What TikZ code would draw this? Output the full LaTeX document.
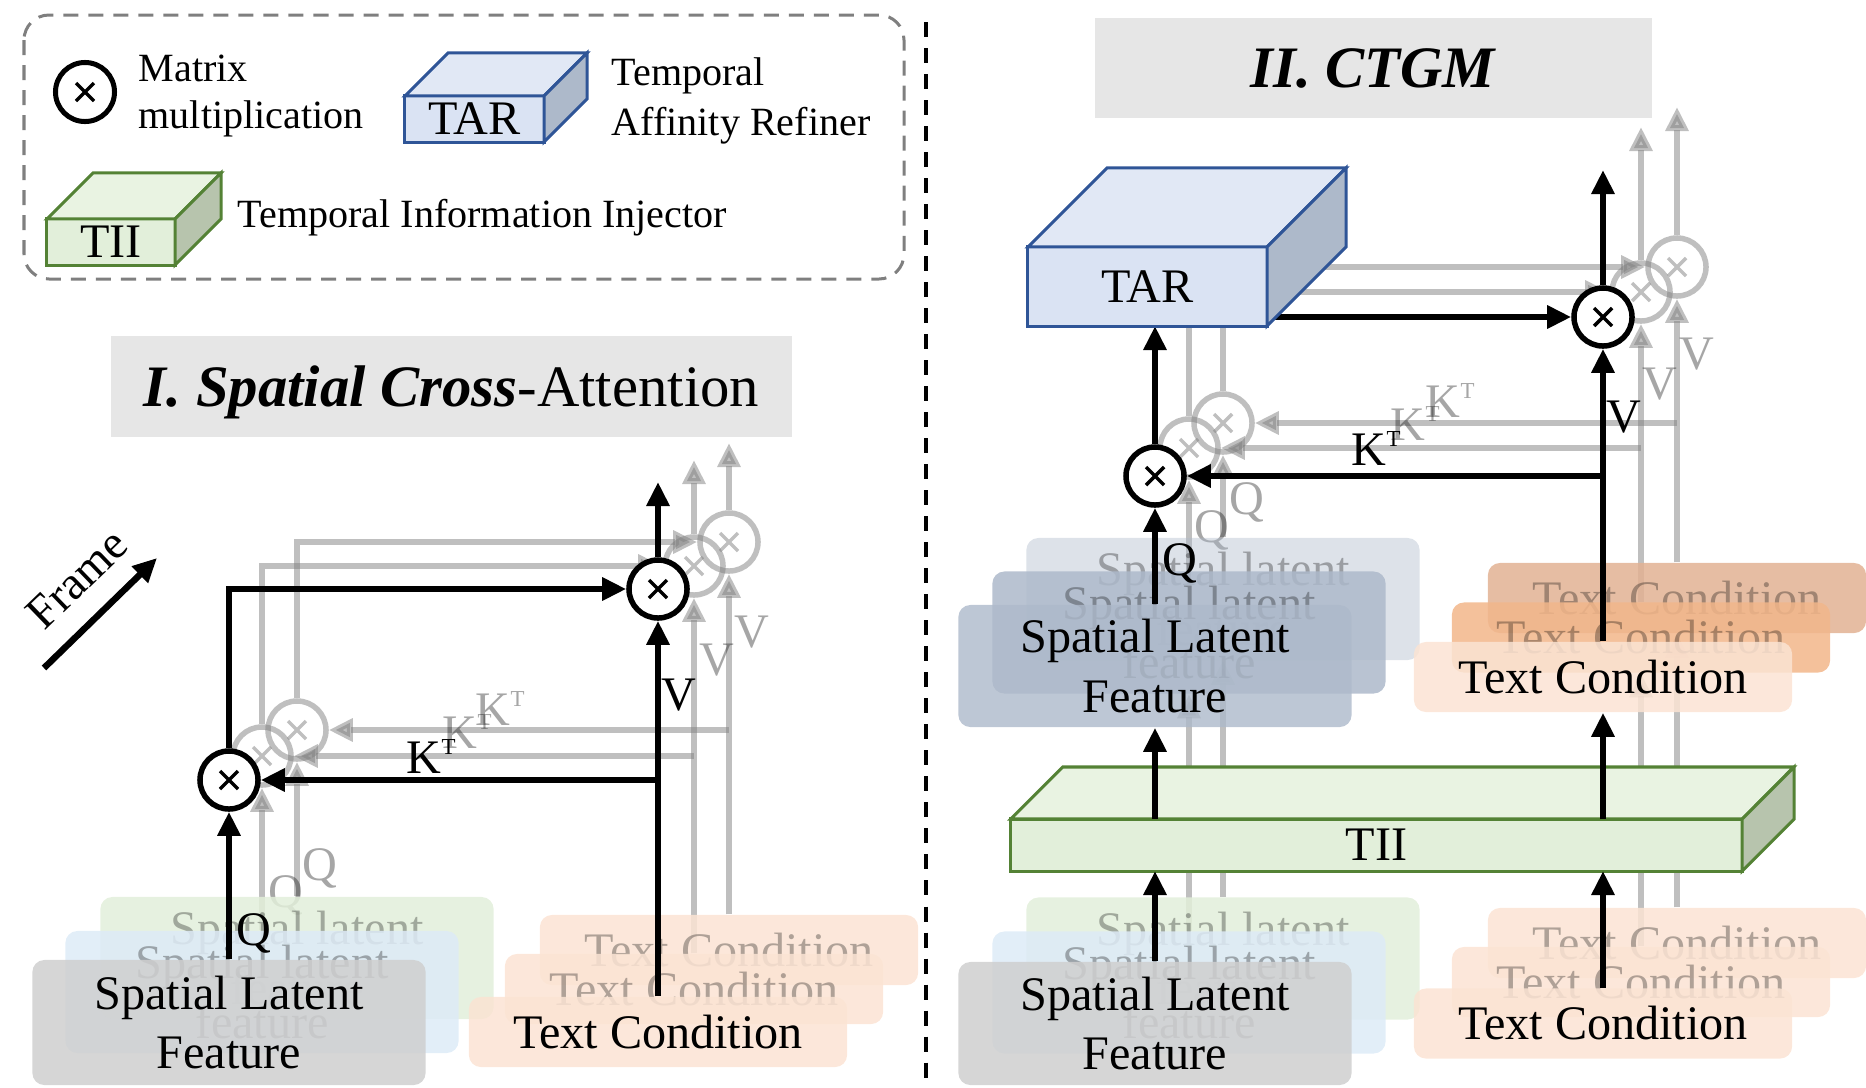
\documentclass[tikz,border=0pt]{standalone}
\usepackage{fontspec}
\setmainfont{Liberation Serif}
\usetikzlibrary{arrows.meta}
\definecolor{cgrey}{HTML}{7F7F7F}
\definecolor{ctitle}{HTML}{E6E6E6}
\definecolor{tarfront}{HTML}{DAE3F3}
\definecolor{tartop}{HTML}{E1E8F5}
\definecolor{tarside}{HTML}{ADB9CA}
\definecolor{tarline}{HTML}{2F5597}
\definecolor{tiifront}{HTML}{E2EFDA}
\definecolor{tiitop}{HTML}{E9F3E2}
\definecolor{tiiside}{HTML}{B7C4AD}
\definecolor{tiiline}{HTML}{548235}
\definecolor{cgreen}{HTML}{E2EFDA}
\definecolor{cblue}{HTML}{DDEBF7}
\definecolor{cgray}{HTML}{CFCFCF}
\definecolor{cpeach}{HTML}{FBE3D3}
\definecolor{cslate}{HTML}{ADB9CA}
\definecolor{corange}{HTML}{F2B68A}
\definecolor{cbrown}{HTML}{E2B293}
\pgfdeclarelayer{back}
\pgfdeclarelayer{boxes}
\pgfdeclarelayer{front}
\pgfsetlayers{back,boxes,main,front}
\newcommand{\KT}{K\textsuperscript{\fontsize{6.5}{7}\selectfont T}}
\tikzset{
  every picture/.style={font=\fontsize{13.7}{16.8}\selectfont},
  arrow/.style={-{Triangle[length=0.24cm, width=0.22cm]}, line width=0.06cm},
  garrow/.style={arrow, draw=black!50, line width=0.065cm, opacity=0.5},
  gline/.style={draw=black!50, line width=0.065cm, opacity=0.5},
  mul/.style={circle, draw, fill=white, line width=0.055cm, minimum size=0.58cm, inner sep=0pt,
    path picture={\draw[line width=0.035cm] (path picture bounding box.center) +(-9,-9) -- +(9,9) +(-9,9) -- +(9,-9);}},
  gmul/.style={circle, draw=black!50, opacity=0.5, line width=0.055cm, minimum size=0.58cm, inner sep=0pt,
    path picture={\draw[black!50, opacity=0.5, line width=0.035cm] (path picture bounding box.center) +(-9,-9) -- +(9,9) +(-9,9) -- +(9,-9);}},
  feat/.style={fill=#1, fill opacity=0.85, text opacity=1, rounded corners=0.12cm, minimum width=3.93cm, minimum height=1.22cm, inner sep=0pt, align=center},
  cond/.style={fill=#1, fill opacity=0.85, text opacity=1, rounded corners=0.12cm, minimum width=3.78cm, minimum height=0.70cm, inner sep=0pt},
  gtext/.style={text opacity=0.3},
  glabel/.style={text opacity=0.35},
  legend/.style={font=\fontsize{11.4}{13.6}\selectfont, inner sep=0pt, align=left},
  titlebox/.style={fill=ctitle, font=\fontsize{16.7}{20}\selectfont, inner sep=0pt, text depth=0pt},
  tarbox/.style={draw=tarline, fill=tarfront, line width=0.03cm, inner sep=0pt, outer sep=0pt},
  tiibox/.style={draw=tiiline, fill=tiifront, line width=0.03cm, inner sep=0pt, outer sep=0pt},
}
\begin{document}
\begin{tikzpicture}[x=0.01cm, y=-0.01cm]
  \useasboundingbox (0,0) rectangle (1866,1087);
  % legend
  \draw[draw=cgrey, line width=0.03cm, dash pattern=on 0.15cm off 0.1cm, rounded corners=0.25cm] (24,15) rectangle (904,279);
  \node[mul, minimum size=0.59cm, line width=0.05cm] (lgmul) at (85,92) {};
  \node[legend, anchor=west] (lgmultxt) at (138,96) {Matrix\\multiplication};
  \node[tarbox, minimum width=1.39cm, minimum height=0.46cm] (lgtar) at (474.5,119) {TAR};
  \draw[tarbox, fill=tartop] (lgtar.north west) -- ++(43,-43) -- ++(139,0) -- (lgtar.north east) -- cycle;
  \draw[tarbox, fill=tarside] (lgtar.north east) -- ++(43,-43) -- ++(0,46) -- (lgtar.south east) -- cycle;
  \node[legend, anchor=west, font=\fontsize{11.4}{14.2}\selectfont] (lgtartxt) at (611,101) {Temporal\\Affinity Refiner};
  \node[tiibox, minimum width=1.28cm, minimum height=0.46cm] (lgtii) at (111,242) {TII};
  \draw[tiibox, fill=tiitop] (lgtii.north west) -- ++(46,-46) -- ++(128,0) -- (lgtii.north east) -- cycle;
  \draw[tiibox, fill=tiiside] (lgtii.north east) -- ++(46,-46) -- ++(0,46) -- (lgtii.south east) -- cycle;
  \node[legend, anchor=base west] (lgtiitxt) at (237,227) {Temporal Information Injector};
  % divider
  \draw[line width=0.045cm, dash pattern=on 0.15cm off 0.11cm] (926,22) -- (926,1087);

  % I. spatial cross-attention
  \node[titlebox, minimum width=6.81cm, minimum height=1.01cm] (ttl1) at (451.5,386.5) {\textbf{\textit{I. Spatial Cross}}-Attention};
  \coordinate (fr0) at (44,668);
  \coordinate (fr1) at (157,558);
  \draw[arrow, line width=0.065cm] (fr0) -- (fr1);
  \node[rotate=44, font=\fontsize{13.4}{15}\selectfont] (frame) at (77,579) {Frame};
  \begin{pgfonlayer}{boxes}
    \node[feat=cgreen, gtext] (lsg) at (297,958) {Spatial latent\\feature};
    \node[feat=cblue, gtext] (lsb) at (262,992) {Spatial latent\\feature};
    \node[feat=cgray, minimum height=1.25cm] (lsf) at (229,1022.5) {Spatial Latent\\Feature};
    \node[cond=cpeach, gtext] (ltb) at (729,950) {Text Condition};
    \node[cond=cpeach, gtext] (ltm) at (694,989) {Text Condition};
    \node[cond=cpeach] (ltf) at (658,1032) {Text Condition};
  \end{pgfonlayer}
  \begin{pgfonlayer}{back}
    \node[gmul] (lq1) at (262,756) {};
    \node[gmul] (lq2) at (297,730) {};
    \node[gmul] (lv1) at (694,566) {};
    \node[gmul] (lv2) at (729,542) {};
    \coordinate (lvout1) at (694,460);
    \coordinate (lvout2) at (729,443);
    \draw[garrow] (lsb) -- (lq1);
    \draw[garrow] (lsg) -- (lq2);
    \draw[garrow] (lq1) |- (lv1);
    \draw[garrow] (lq2) |- (lv2);
    \draw[garrow] (ltm) -- (lv1);
    \draw[garrow] (ltb) -- (lv2);
    \draw[garrow] (lv1 |- lq1) -- (lq1);
    \draw[garrow] (lv2 |- lq2) -- (lq2);
    \draw[garrow] (lv1) -- (lvout1);
    \draw[garrow] (lv2) -- (lvout2);
    \node[glabel, anchor=base] (lql1) at (286,907) {Q};
    \node[glabel, anchor=base] (lql2) at (320,880) {Q};
    \node[glabel, anchor=base west, inner sep=0pt] (lkl1) at (442,748) {\KT};
    \node[glabel, anchor=base west, inner sep=0pt] (lkl2) at (475,725) {\KT};
    \node[glabel, anchor=base] (lvl1) at (717,675) {V};
    \node[glabel, anchor=base] (lvl2) at (752,647) {V};
  \end{pgfonlayer}
  \node[mul] (lq) at (229,780) {};
  \node[mul] (lv) at (658,589) {};
  \coordinate (lvout) at (658,482);
  \draw[arrow] (lsf) -- (lq);
  \draw[arrow] (lq) |- (lv);
  \draw[arrow] (ltf) -- (lv);
  \draw[arrow] (lv |- lq) -- (lq);
  \draw[arrow] (lv) -- (lvout);
  \node[anchor=base] (lql) at (254,945) {Q};
  \node[anchor=base west, inner sep=0pt] (lkl) at (406,773) {\KT};
  \node[anchor=base] (lvl) at (679,710) {V};

  % II. CTGM
  \node[titlebox, minimum width=5.57cm, minimum height=1.00cm] (ttl2) at (1373.5,68) {\textbf{\textit{II. CTGM}}};
  \begin{pgfonlayer}{front}
    \node[tarbox, minimum width=2.39cm, minimum height=0.79cm] (tar) at (1147.5,286.5) {TAR};
    \draw[tarbox, fill=tartop] (tar.north west) -- ++(79,-79) -- ++(239,0) -- (tar.north east) -- cycle;
    \draw[tarbox, fill=tarside] (tar.north east) -- ++(79,-79) -- ++(0,79) -- (tar.south east) -- cycle;
  \end{pgfonlayer}
  \begin{pgfonlayer}{boxes}
    \node[feat=cslate, fill opacity=0.42, gtext] (rm2) at (1223,599) {Spatial latent\\feature};
    \node[feat=cslate, gtext] (rm1) at (1189,632.5) {Spatial latent\\feature};
    \node[feat=cslate, fill opacity=0.8] (rsf) at (1155,666) {Spatial Latent\\Feature};
    \node[cond=cbrown, gtext] (rtm2) at (1677,598) {Text Condition};
    \node[cond=corange, gtext] (rtm1) at (1641,637.5) {Text Condition};
    \node[cond=cpeach] (rtf) at (1603,677) {Text Condition};
    \node[tiibox, minimum width=7.31cm, minimum height=0.52cm] (tii) at (1376.5,845) {TII};
    \draw[tiibox, fill=tiitop] (tii.north west) -- ++(52,-52) -- ++(731,0) -- (tii.north east) -- cycle;
    \draw[tiibox, fill=tiiside] (tii.north east) -- ++(52,-52) -- ++(0,52) -- (tii.south east) -- cycle;
    \node[feat=cgreen, gtext] (rb2) at (1223,958.5) {Spatial latent\\feature};
    \node[feat=cblue, gtext] (rb1) at (1189,992.5) {Spatial latent\\feature};
    \node[feat=cgray, minimum height=1.23cm] (rbf) at (1155,1023.5) {Spatial Latent\\Feature};
    \node[cond=cpeach, gtext] (rbt2) at (1677,943) {Text Condition};
    \node[cond=cpeach, gtext] (rbt1) at (1641,982) {Text Condition};
    \node[cond=cpeach] (rbtf) at (1603,1023.5) {Text Condition};
  \end{pgfonlayer}
  \begin{pgfonlayer}{back}
    \node[gmul] (rq1) at (1189,448) {};
    \node[gmul] (rq2) at (1223,423) {};
    \node[gmul] (rv1) at (1641,292) {};
    \node[gmul] (rv2) at (1677,267) {};
    \coordinate (rvout1) at (1641,127);
    \coordinate (rvout2) at (1677,107);
    \draw[gline] (rb1) -- (rb1 |- tii.south);
    \draw[gline] (rb2) -- (rb2 |- tii.south);
    \draw[gline] (rbt1) -- (rbt1 |- tii.south);
    \draw[gline] (rbt2) -- (rbt2 |- tii.south);
    \draw[garrow] (rm1 |- tii.north) -- (rm1);
    \draw[garrow] (rm2 |- tii.north) -- (rm2);
    \draw[garrow] (rtm1 |- tii.north) -- (rtm1);
    \draw[garrow] (rtm2 |- tii.north) -- (rtm2);
    \draw[garrow] (rm1) -- (rq1);
    \draw[garrow] (rm2) -- (rq2);
    \draw[garrow] (rq1) -- (rq1 |- tar);
    \draw[garrow] (rq2) -- (rq2 |- tar);
    \draw[garrow] (tar.center |- rv1) -- (rv1);
    \draw[garrow] (tar.center |- rv2) -- (rv2);
    \draw[garrow] (rtm1) -- (rv1);
    \draw[garrow] (rtm2) -- (rv2);
    \draw[garrow] (rv1 |- rq1) -- (rq1);
    \draw[garrow] (rv2 |- rq2) -- (rq2);
    \draw[garrow] (rv1) -- (rvout1);
    \draw[garrow] (rv2) -- (rvout2);
    \node[glabel, anchor=base] (rql1) at (1212,542) {Q};
    \node[glabel, anchor=base] (rql2) at (1247,514) {Q};
    \node[glabel, anchor=base west, inner sep=0pt] (rkl1) at (1390,440) {\KT};
    \node[glabel, anchor=base west, inner sep=0pt] (rkl2) at (1425,417) {\KT};
    \node[glabel, anchor=base] (rvl1) at (1660,399) {V};
    \node[glabel, anchor=base] (rvl2) at (1697,369) {V};
  \end{pgfonlayer}
  \node[mul] (rq) at (1155,476) {};
  \node[mul] (rv) at (1603,317) {};
  \coordinate (rvout) at (1603,170);
  \draw[arrow] (rbf) -- (rbf |- tii.south);
  \draw[arrow] (rbtf) -- (rbtf |- tii.south);
  \draw[arrow] (rsf |- tii.north) -- (rsf);
  \draw[arrow] (rtf |- tii.north) -- (rtf);
  \draw[arrow] (rsf) -- (rq);
  \draw[arrow] (rq) -- (rq |- tar.south);
  \draw[arrow] (tar.center |- rv) -- (rv);
  \draw[arrow] (rtf) -- (rv);
  \draw[arrow] (rv |- rq) -- (rq);
  \draw[arrow] (rv) -- (rvout);
  \node[anchor=base] (rql) at (1180,575) {Q};
  \node[anchor=base west, inner sep=0pt] (rkl) at (1351,465) {\KT};
  \node[anchor=base] (rvl) at (1624,432) {V};
\end{tikzpicture}
\end{document}
